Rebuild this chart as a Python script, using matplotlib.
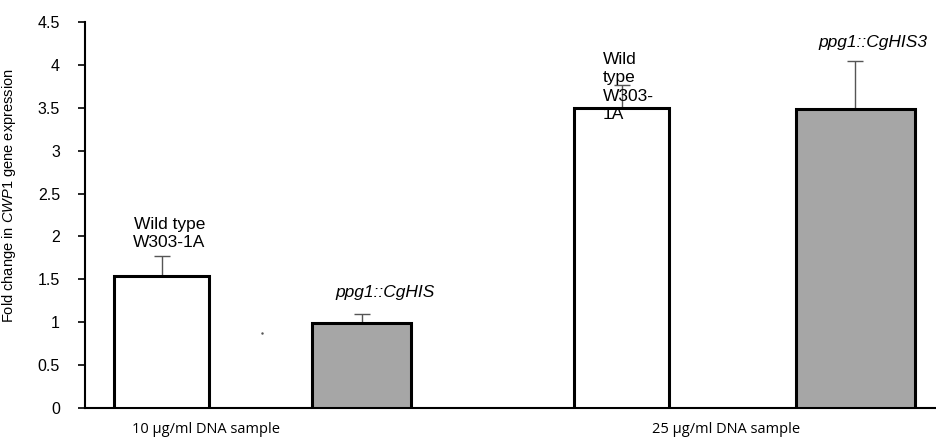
import matplotlib.pyplot as plt

plt.rcParams['font.family'] = ['Liberation Sans', 'DejaVu Sans']
plt.rcParams['mathtext.fontset'] = 'custom'
plt.rcParams['mathtext.it'] = 'Liberation Sans:italic'
plt.rcParams['mathtext.rm'] = 'Liberation Sans'

# fold change values
strains = ['Wild type W303-1A', 'ppg1::CgHIS', 'Wild type W303-1A', 'ppg1::CgHIS3']
fold_change = [1.54, 0.99, 3.50, 3.48]
err_up = [0.23, 0.11, 0.26, 0.56]
group_labels = ['10 \u03bcg/ml DNA sample', '25 \u03bcg/ml DNA sample']
y_ticks = [0, 0.5, 1, 1.5, 2, 2.5, 3, 3.5, 4, 4.5]

# layout (bar centres on a 0..10 axis)
centres = [0.90, 3.25, 6.30, 9.04]
widths = [1.12, 1.16, 1.12, 1.40]
fills = ['white', '#a6a6a6', 'white', '#a6a6a6']

fig = plt.figure(figsize=(9.37, 4.37), dpi=100)
ax = fig.add_axes([85 / 937, 1 - 408 / 437, 1 - 85 / 937, (408 - 22) / 437])

ax.bar(centres, fold_change, width=widths, color=fills, edgecolor='black',
       linewidth=2.2, zorder=3)
ax.errorbar(centres, fold_change, yerr=[[0] * 4, err_up], fmt='none',
            ecolor='#555555', elinewidth=1, capsize=6, capthick=1, zorder=2)

# stray dot present in the original figure
ax.plot([2.08], [0.87], marker='.', markersize=1.5, color='#555555')

ax.set_xlim(0, 10)
ax.set_ylim(0, 4.5)
ax.set_yticks(y_ticks)
ax.set_yticklabels([f'{t:g}' for t in y_ticks], fontsize=11.5)
ax.tick_params(axis='y', direction='out', length=5, width=1.2, pad=13)
ax.set_xticks([])
ax.spines['top'].set_visible(False)
ax.spines['right'].set_visible(False)
ax.spines['left'].set_linewidth(1.5)
ax.spines['bottom'].set_linewidth(1.5)

ax.set_ylabel(r'Fold change in $\it{CWP1}$ gene expression', fontsize=10.5)
ax.yaxis.set_label_coords(-0.079, 0.55)

# strain annotations
ax.text(0.99, 1.84, 'Wild type\nW303-1A', ha='center', va='bottom',
        fontsize=12.5, linespacing=1.3)
ax.text(3.52, 1.26, 'ppg1::CgHIS', ha='center', va='bottom',
        fontsize=12.5, style='italic')
ax.text(6.08, 3.33, 'Wild\ntype\nW303-\n1A', ha='left', va='bottom',
        fontsize=12.5, linespacing=1.3)
ax.text(9.25, 4.17, 'ppg1::CgHIS3', ha='center', va='bottom',
        fontsize=12.5, style='italic')

# group labels under the axis
for xpos, lab in zip([1.42, 7.52], group_labels):
    ax.text(xpos, -0.16, lab, ha='center', va='top', fontsize=10.5,
            family=['Open Sans', 'DejaVu Sans'], clip_on=False)

fig.savefig('out.png', dpi=100)
